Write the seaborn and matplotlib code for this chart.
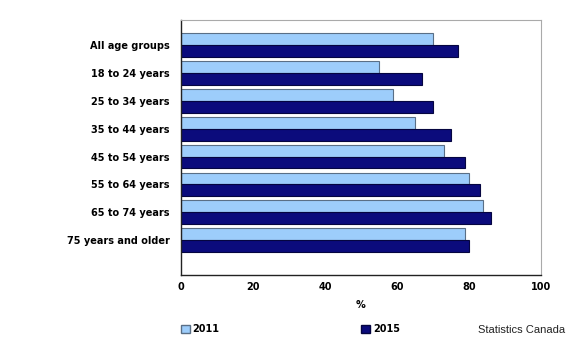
import matplotlib
matplotlib.use("Agg")
import matplotlib.pyplot as plt
import seaborn as sns
import pandas as pd
from matplotlib.patches import Patch

categories = ["All age groups", "18 to 24 years", "25 to 34 years", "35 to 44 years",
              "45 to 54 years", "55 to 64 years", "65 to 74 years", "75 years and older"]
values_2011 = [70, 55, 59, 65, 73, 80, 84, 79]
values_2015 = [77, 67, 70, 75, 79, 83, 86, 80]
years = ["2011", "2015"]
xticks = [0, 20, 40, 60, 80, 100]

df = pd.DataFrame({
    "group": categories * 2,
    "value": values_2011 + values_2015,
    "year": [years[0]] * len(categories) + [years[1]] * len(categories),
})

sns.set_theme(style="white")
plt.rcParams["font.family"] = ["DejaVu Sans"]
plt.rcParams["text.color"] = "black"
plt.rcParams["xtick.color"] = "black"
plt.rcParams["ytick.color"] = "black"
plt.rcParams["axes.labelcolor"] = "black"

colors = {"2011": "#9dcdfb", "2015": "#0b0b7c"}
edges = {"2011": "#5a6f86", "2015": "#050540"}

fig = plt.figure(figsize=(5.7, 3.39), dpi=100)
ax = fig.add_axes([181/570, 1 - 275/339, 360/570, 255/339])

sns.barplot(data=df, y="group", x="value", hue="year", orient="h",
            palette=colors, width=0.85, ax=ax, legend=False, saturation=1)

for cont, yr in zip(ax.containers, years):
    for bar in cont:
        bar.set_edgecolor(edges[yr])
        bar.set_linewidth(0.8)

ax.set_xlim(0, 100)
ax.set_ylim(8.25, -0.9)
ax.set_xticks(xticks)
ax.set_xticklabels([str(t) for t in xticks], fontsize=7, fontweight="bold")
ax.set_yticks(range(len(categories)))
ax.set_yticklabels(categories, fontsize=7, fontweight="bold")
ax.set_ylabel("")
ax.set_xlabel("%", fontsize=7, fontweight="bold", labelpad=6)
ax.tick_params(axis="x", direction="in", length=3, width=0.6, color="#888888", pad=5)
ax.tick_params(axis="y", length=0, pad=8)
for side in ["top", "right"]:
    ax.spines[side].set_color("#aaaaaa")
    ax.spines[side].set_linewidth(0.8)
for side in ["left", "bottom"]:
    ax.spines[side].set_color("#222222")
    ax.spines[side].set_linewidth(1.0)

handles = [Patch(facecolor=colors[y], edgecolor=edges[y], label=y) for y in years]
leg = fig.legend(handles=handles, loc="center left", bbox_to_anchor=(172/570, 1 - 329/339),
                 ncol=2, frameon=False, handlelength=0.9, handleheight=0.9,
                 handletextpad=0.3, columnspacing=14.6,
                 prop={"size": 7, "weight": "bold"})

fig.text(565/570, 1 - 330/339, "Statistics Canada", ha="right", va="center",
         fontsize=8, color="#222222", family="Liberation Sans")

fig.savefig("out.png", dpi=100)
